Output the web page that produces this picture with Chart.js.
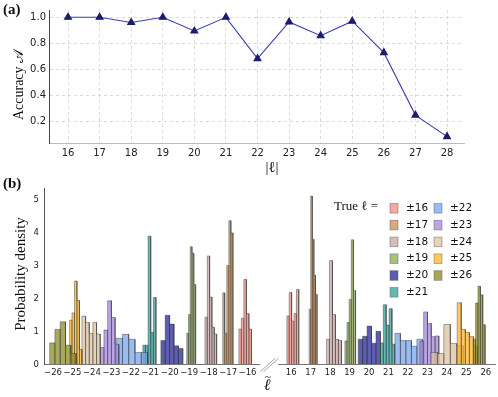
<!DOCTYPE html>
<html>
<head>
<meta charset="utf-8">
<script src="https://cdn.jsdelivr.net/npm/chart.js@4.4.1/dist/chart.umd.min.js"></script>
<style>
  body { margin: 0; background: #fff; }
  #wrap { position: relative; width: 498px; height: 397px; }
  canvas { position: absolute; left: 0; }
</style>
</head>
<body>
<div id="wrap">
  <canvas id="accChart" width="498" height="178" style="top:0"></canvas>
  <canvas id="histChart" width="498" height="219" style="top:178px"></canvas>
</div>
<script>
// (a) accuracy per |l|
const accL = [16, 17, 18, 19, 20, 21, 22, 23, 24, 25, 26, 27, 28];
const accuracy = [1.0, 1.0, 0.96, 1.0, 0.895, 1.0, 0.683, 0.964, 0.859, 0.97, 0.729, 0.25, 0.085];
const accTicksY = [0.2, 0.4, 0.6, 0.8, 1.0];

// (b) histograms of predicted l, one per true |l|, bins = start + i*width
const trueL = [16, 17, 18, 19, 20, 21, 22, 23, 24, 25, 26];
const negStart = [-16.45, -17.28, -18.19, -19.13, -20.46, -21.385, -22.754, -23.574, -24.513, -25.149, -26.174];
const negWidth = [0.13, 0.106, 0.12, 0.092, 0.226, 0.136, 0.323, 0.192, 0.188, 0.127, 0.273];
const negHeights = [
  [1.07, 1.40, 2.58, 1.54, 1.07],
  [2.17, 0.94, 3.00, 4.36, 3.99],
  [1.43, 3.29, 2.04, 1.13, 0.92],
  [0.94, 1.51, 3.57, 3.37, 2.42],
  [0.72, 1.49, 1.22, 0.56, 0.48],
  [0.58, 0.58, 3.89, 0.97, 2.03],
  [0.79, 0.91, 0.76, 0.36, 0.36],
  [0.51, 1.04, 1.93, 1.42, 0.61],
  [1.46, 1.27, 0.94, 1.27, 0.92],
  [1.34, 1.56, 2.53, 1.94, 0.45],
  [0.65, 1.06, 1.29, 0.58, 0.33]
];
const posStart = [15.774, 16.92, 17.81, 18.756, 19.44, 20.586, 21.327, 22.612, 23.177, 24.53, 25.352];
const posWidth = [0.123, 0.082, 0.154, 0.11, 0.229, 0.148, 0.283, 0.195, 0.333, 0.209, 0.123];
const posHeights = [
  [1.47, 2.18, 1.31, 1.54, 2.27],
  [1.67, 5.11, 3.79, 2.70, 2.12],
  [0.76, 3.15, 1.51, 0.76, 0.73],
  [0.71, 1.27, 1.97, 3.78, 2.24],
  [0.76, 0.85, 1.16, 0.64, 1.00],
  [0.65, 1.81, 1.19, 1.69, 0.61],
  [0.94, 0.72, 0.72, 0.55, 0.76],
  [0.70, 1.59, 1.24, 0.84, 0.86],
  [0.36, 0.33, 1.21, 0.63, 0.56],
  [1.87, 1.06, 0.97, 0.84, 0.55],
  [0.76, 1.86, 2.37, 2.11, 1.20]
];
const negTicks = [-26, -25, -24, -23, -22, -21, -20, -19, -18, -17, -16];
const posTicks = [16, 17, 18, 19, 20, 21, 22, 23, 24, 25, 26];
const densTicks = [0, 1, 2, 3, 4, 5];

const fillColors = [
  'rgba(242,140,130,0.75)', 'rgba(205,140,80,0.75)', 'rgba(200,165,165,0.75)',
  'rgba(140,170,90,0.75)', 'rgba(40,40,150,0.75)', 'rgba(50,160,155,0.75)',
  'rgba(120,165,235,0.75)', 'rgba(165,135,220,0.75)', 'rgba(220,195,160,0.75)',
  'rgba(255,180,40,0.75)', 'rgba(140,140,40,0.75)'
];
const edgeColor = 'rgba(40,40,40,0.5)';

Chart.defaults.font.family = 'DejaVu Sans';
Chart.defaults.color = '#222';
Chart.defaults.animation = false;

const SERIF = '"Liberation Serif", "DejaVu Serif", serif';

// broken axis: -26..-16 then a gap, then 16..26
const GAP = 2.244;
function toAxis(v) { return v < 0 ? v + 26 : v - 16 + 10 + GAP; }
function fromAxis(u) { return u <= 11 ? u - 26 : u + 6 - GAP; }

// text drawn at fixed spots (panel letters, axis titles)
const textPlugin = {
  id: 'panelText',
  afterDraw(chart, args, opts) {
    const ctx = chart.ctx;
    (opts.items || []).forEach(it => {
      ctx.save();
      ctx.font = it.font;
      ctx.fillStyle = '#111';
      ctx.textAlign = it.align || 'center';
      ctx.textBaseline = 'middle';
      ctx.translate(it.x, it.y);
      if (it.rotate) ctx.rotate(it.rotate);
      ctx.fillText(it.text, 0, 0);
      ctx.restore();
    });
  }
};

new Chart(document.getElementById('accChart'), {
  type: 'line',
  data: {
    datasets: [{
      data: accL.map((l, i) => ({x: l, y: accuracy[i]})),
      borderColor: '#3c3cb4',
      borderWidth: 1.1,
      pointStyle: 'triangle',
      pointRadius: 4,
      pointBackgroundColor: '#1c1c6c',
      pointBorderColor: '#1c1c6c',
      tension: 0
    }]
  },
  options: {
    responsive: false,
    layout: { padding: { left: 0, right: 34, top: 10, bottom: 0 } },
    scales: {
      x: {
        type: 'linear', min: 15.398, max: 28.538,
        afterBuildTicks: s => { s.ticks = accL.map(v => ({value: v})); },
        afterFit: s => { s.height = 35; },
        ticks: { font: { size: 10 }, padding: 4, callback: v => v },
        grid: { color: '#d2d2d2', lineWidth: 0.8, drawTicks: false },
        border: { display: true, color: '#bbb', dash: [3, 3] }
      },
      y: {
        min: 0.036, max: 1.056,
        afterBuildTicks: s => { s.ticks = accTicksY.map(v => ({value: v})); },
        afterFit: s => { s.width = 49; },
        ticks: { font: { size: 10 }, padding: 3, callback: v => v.toFixed(1) },
        grid: { color: '#d2d2d2', lineWidth: 0.8, drawTicks: false },
        border: { display: true, color: '#444', dash: [3, 3] }
      }
    },
    plugins: {
      legend: { display: false },
      tooltip: { enabled: false },
      panelText: {
        items: [
          { text: '(a)', x: 3, y: 10, align: 'left', font: 'bold 15px ' + SERIF },
          { text: 'Accuracy 𝒜', x: 19, y: 85, rotate: -Math.PI / 2, font: '14px ' + SERIF },
          { text: '|ℓ|', x: 272, y: 168, font: '15px ' + SERIF }
        ]
      }
    }
  },
  plugins: [textPlugin]
});

function histPoints(start, width, heights) {
  const pts = [];
  heights.forEach((h, i) => {
    const x0 = toAxis(start + i * width), x1 = toAxis(start + (i + 1) * width);
    pts.push({x: x0, y: 0}, {x: x0, y: h}, {x: x1, y: h}, {x: x1, y: 0});
  });
  return pts;
}

const histSets = [];
trueL.forEach((l, i) => {
  [[negStart, negWidth, negHeights], [posStart, posWidth, posHeights]].forEach(side => {
    histSets.push({
      data: histPoints(side[0][i], side[1][i], side[2][i]),
      backgroundColor: fillColors[i],
      borderColor: edgeColor,
      borderWidth: 0.8,
      pointRadius: 0,
      fill: 'origin',
      tension: 0,
      order: 100 - l
    });
  });
});

// legend "True l =" with two columns
const legendPlugin = {
  id: 'trueLegend',
  afterDraw(chart) {
    const ctx = chart.ctx;
    ctx.save();
    ctx.textBaseline = 'middle';
    ctx.fillStyle = '#111';
    ctx.font = '13px ' + SERIF;
    ctx.textAlign = 'left';
    ctx.fillText('True ℓ =', 334, 29);
    ctx.font = '10.5px "DejaVu Sans"';
    trueL.forEach((l, i) => {
      const col = i < 6 ? 0 : 1, row = i < 6 ? i : i - 6;
      const px = 390 + col * 44, py = 30.3 + row * 16.8;
      ctx.fillStyle = '#fff';
      ctx.fillRect(px, py - 4.8, 8, 9.6);
      ctx.fillStyle = fillColors[i];
      ctx.fillRect(px, py - 4.8, 8, 9.6);
      ctx.strokeStyle = 'rgba(60,60,60,0.45)';
      ctx.lineWidth = 0.8;
      ctx.strokeRect(px, py - 4.8, 8, 9.6);
      ctx.fillStyle = '#111';
      ctx.fillText('±' + l, px + 16, py);
    });
    ctx.restore();
  }
};

// gap in the bottom axis plus the "//" marks
const breakPlugin = {
  id: 'axisBreak',
  afterDraw(chart) {
    const ctx = chart.ctx, xs = chart.scales.x;
    const y0 = chart.chartArea.bottom;
    const a = xs.getPixelForValue(toAxis(-16) + 0.65);
    const b = xs.getPixelForValue(toAxis(16) - 0.67);
    ctx.save();
    ctx.fillStyle = '#fff';
    ctx.fillRect(a, y0 - 2, b - a, 4);
    ctx.strokeStyle = '#999';
    ctx.lineWidth = 0.9;
    [0, 3.3].forEach(d => {
      ctx.beginPath();
      ctx.moveTo(a + d, y0 + 7.4);
      ctx.lineTo(a + d + 15, y0 - 6);
      ctx.stroke();
    });
    ctx.restore();
  }
};

new Chart(document.getElementById('histChart'), {
  type: 'line',
  data: { datasets: histSets },
  options: {
    responsive: false,
    layout: { padding: { left: 0, right: 3, top: 9, bottom: 0 } },
    scales: {
      x: {
        type: 'linear', min: -0.462, max: 22.717,
        afterBuildTicks: s => { s.ticks = negTicks.concat(posTicks).map(v => ({value: toAxis(v)})); },
        afterFit: s => { s.height = 32.7; },
        ticks: {
          font: { size: 8.5 }, padding: 3, autoSkip: false, maxRotation: 0,
          callback: v => { const l = Math.round(fromAxis(v)); return l < 0 ? '−' + (-l) : String(l); }
        },
        grid: { display: false, drawTicks: false },
        border: { display: true, color: '#777' }
      },
      y: {
        min: 0, max: 5.35,
        afterBuildTicks: s => { s.ticks = densTicks.map(v => ({value: v})); },
        afterFit: s => { s.width = 44; },
        ticks: { font: { size: 8.5 }, padding: 5 },
        grid: { display: false, drawTicks: false },
        border: { display: true, color: '#555' }
      }
    },
    plugins: {
      legend: { display: false },
      tooltip: { enabled: false },
      panelText: {
        items: [
          { text: '(b)', x: 3, y: 6, align: 'left', font: 'bold 15px ' + SERIF },
          { text: 'Probability density', x: 21, y: 96, rotate: -Math.PI / 2, font: '15px ' + SERIF },
          { text: 'ℓ', x: 267, y: 208, font: 'italic 16px ' + SERIF },
          { text: '~', x: 268, y: 199, font: '11px ' + SERIF }
        ]
      }
    }
  },
  plugins: [textPlugin, legendPlugin, breakPlugin]
});
</script>
</body>
</html>
